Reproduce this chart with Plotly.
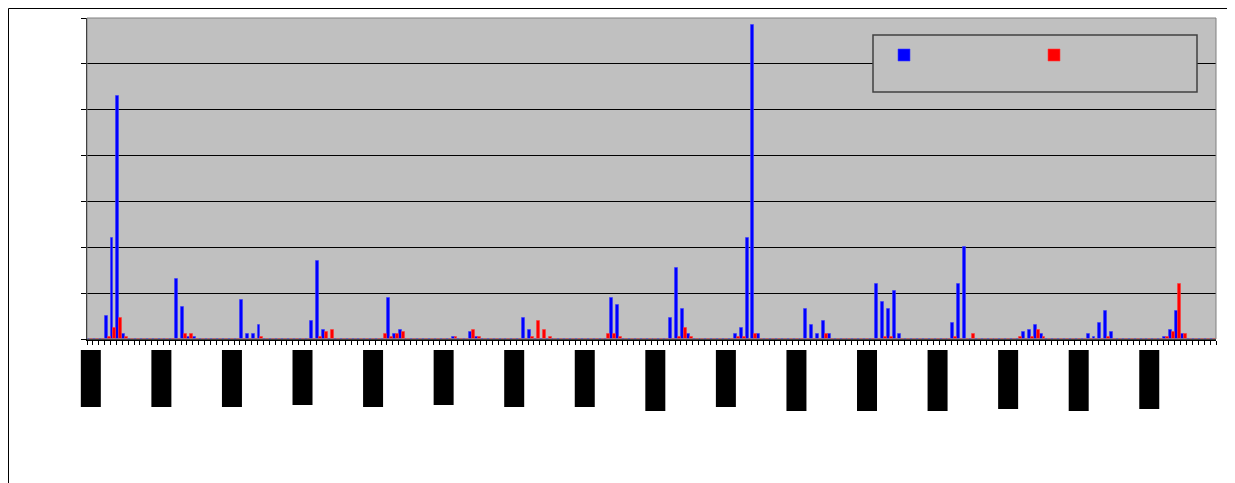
import plotly.graph_objects as go

# 16 groups of 12 categories each (labels were blacked out in the source)
blue_rows = [
    [0, 0, 0, 10, 44, 106, 2, 0, 0, 0, 0, 0],
    [0, 0, 0, 26, 14, 1, 1, 0, 0, 0, 0, 0],
    [0, 0, 17, 2, 2, 6, 0, 0, 0, 0, 0, 0],
    [0, 0, 8, 34, 4, 0, 0, 0, 0, 0, 0, 0],
    [0, 0, 0, 18, 2, 4, 0, 0, 0, 0, 0, 0],
    [0, 0, 1, 0, 0, 3, 1, 0, 0, 0, 0, 0],
    [0, 0, 9, 4, 0, 0, 0, 0, 0, 0, 0, 0],
    [0, 0, 0, 0, 0, 18, 15, 0, 0, 0, 0, 0],
    [0, 0, 0, 9, 31, 13, 2, 0, 0, 0, 0, 0],
    [0, 0, 2, 5, 44, 137, 2, 0, 0, 0, 0, 0],
    [0, 0, 13, 6, 2, 8, 2, 0, 0, 0, 0, 0],
    [0, 0, 24, 16, 13, 21, 2, 0, 0, 0, 0, 0],
    [0, 0, 0, 7, 24, 40, 0, 0, 0, 0, 0, 0],
    [0, 0, 0, 3, 4, 6, 2, 0, 0, 0, 0, 0],
    [0, 0, 2, 1, 7, 12, 3, 0, 0, 0, 0, 0],
    [0, 0, 0, 1, 4, 12, 2, 0, 0, 0, 0, 0],
]
red_rows = [
    [0, 0, 0, 1, 5, 9, 1, 0, 0, 0, 0, 0],
    [0, 0, 0, 0, 2, 2, 0, 0, 0, 0, 0, 0],
    [0, 0, 0, 0, 0, 1, 0, 0, 0, 0, 0, 0],
    [0, 0, 0, 1, 3, 4, 0, 0, 0, 0, 0, 0],
    [0, 0, 2, 1, 2, 3, 0, 0, 0, 0, 0, 0],
    [0, 0, 1, 0, 0, 4, 1, 0, 0, 0, 0, 0],
    [0, 0, 0, 1, 8, 4, 1, 0, 0, 0, 0, 0],
    [0, 0, 0, 0, 2, 2, 1, 0, 0, 0, 0, 0],
    [0, 0, 0, 0, 1, 5, 1, 0, 0, 0, 0, 0],
    [0, 0, 1, 1, 0, 2, 0, 0, 0, 0, 0, 0],
    [0, 0, 0, 0, 0, 2, 0, 0, 0, 0, 0, 0],
    [0, 0, 0, 1, 1, 0, 0, 0, 0, 0, 0, 0],
    [0, 0, 0, 1, 0, 0, 2, 0, 0, 0, 0, 0],
    [0, 0, 1, 0, 1, 4, 1, 0, 0, 0, 0, 0],
    [0, 0, 0, 0, 0, 1, 0, 0, 0, 0, 0, 0],
    [0, 0, 0, 1, 3, 24, 2, 0, 0, 0, 0, 0],
]
# pixel bottoms of the blacked-out category labels
label_bottoms = [407, 407, 407, 405, 407, 405, 407, 407, 411, 407, 411, 411, 411, 409, 411, 409]

blue = [v for row in blue_rows for v in row]
red = [v for row in red_rows for v in row]
x = list(range(len(blue)))
xrange = [-0.5, len(x) - 0.5]

# page body adds an 8px offset, so the figure is 8px smaller than the window
OFF = 8
W, H = 1235 - OFF, 483 - OFF
L, T = 87 - OFF, 18 - OFF
pw, ph = 1129, 321
R, B = W - L - pw, H - T - ph

def px_x(p):
    return (p - OFF - L) / pw

def px_y(p):
    return (T + ph - (p - OFF)) / ph

def cat_x(c):
    # category position -> paper x (data shapes get clipped at the axis ends)
    return (c - xrange[0]) / (xrange[1] - xrange[0])

fig = go.Figure()
fig.add_trace(go.Bar(x = x, y = blue, name = "", marker = dict(color = "#0000FF", line = dict(width = 1, color = "rgba(60,60,255,0.6)"))))
fig.add_trace(go.Bar(x = x, y = red, name = "", marker = dict(color = "#FF0000", line = dict(width = 1, color = "rgba(255,60,60,0.6)"))))

shapes = []
# outer chart border (top, left, right)
border = dict(type = "line", xref = "paper", yref = "paper", line = dict(color = "black", width = 1), layer = "above")
shapes.append(dict(border, x0 = px_x(8.5), x1 = px_x(1227.5), y0 = px_y(8.5), y1 = px_y(8.5)))
shapes.append(dict(border, x0 = px_x(8.5), x1 = px_x(8.5), y0 = px_y(8.5), y1 = px_y(483)))
shapes.append(dict(border, x0 = px_x(1227.5), x1 = px_x(1227.5), y0 = px_y(8.5), y1 = px_y(483)))
# plot area border
shapes.append(dict(type = "rect", xref = "paper", yref = "paper", x0 = 0, x1 = 1, y0 = 0, y1 = 1,
    line = dict(color = "#808080", width = 1), layer = "above"))
# legend box
shapes.append(dict(type = "rect", xref = "paper", yref = "paper",
    x0 = px_x(873), x1 = px_x(1197), y0 = px_y(92), y1 = px_y(35),
    line = dict(color = "#404040", width = 1.5), fillcolor = "#C0C0C0", layer = "above"))
# blacked-out category labels
for i, bottom in enumerate(label_bottoms):
    c = i * 12
    shapes.append(dict(type = "rect", xref = "paper", yref = "paper",
        x0 = cat_x(c - 1.55), x1 = cat_x(c + 1.85), y0 = px_y(bottom), y1 = px_y(350),
        line = dict(width = 0), fillcolor = "black"))

fig.update_layout(
    width = W, height = H,
    margin = dict(l = L, r = R, t = T, b = B, autoexpand = False),
    paper_bgcolor = "white",
    plot_bgcolor = "#C0C0C0",
    barmode = "group", bargap = 0, bargroupgap = 0,
    shapes = shapes,
    showlegend = True,
    legend = dict(orientation = "h", x = px_x(884), xanchor = "left", y = px_y(55), yanchor = "middle",
        entrywidth = 105, entrywidthmode = "pixels", bgcolor = "rgba(0,0,0,0)", borderwidth = 0,
        font = dict(family = "Liberation Sans", size = 12)),
    xaxis = dict(
        range = xrange,
        showgrid = False, zeroline = False,
        showline = True, linecolor = "black", linewidth = 2,
        ticks = "outside", ticklen = 4, tickcolor = "black", tickwidth = 1,
        tickmode = "linear", tick0 = -0.5, dtick = 1,
        showticklabels = False
    ),
    yaxis = dict(
        range = [0, 140], tickmode = "linear", tick0 = 0, dtick = 20,
        showgrid = True, gridcolor = "black", gridwidth = 1, zeroline = False,
        showline = True, linecolor = "black", linewidth = 1,
        ticks = "outside", ticklen = 5, tickcolor = "black",
        showticklabels = False
    ),
)

fig.write_html("out.html")
